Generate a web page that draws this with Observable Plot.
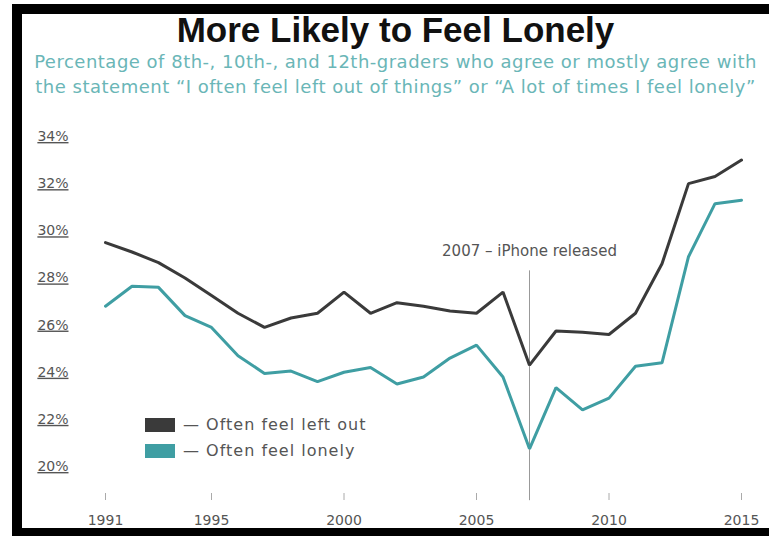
<!DOCTYPE html>
<html>
<head>
<meta charset="utf-8">
<script src="https://cdn.jsdelivr.net/npm/d3@7"></script>
<script src="https://cdn.jsdelivr.net/npm/@observablehq/plot@0.6"></script>
<style>
  html, body { margin: 0; padding: 0; background: #fff; }
  #wrap { position: relative; width: 769px; height: 536px; overflow: hidden; background: #fff; }
  .bar { position: absolute; background: #000; z-index: 5; }
  #title { position: absolute; left: 22px; right: 0; top: 12px; text-align: center;
    font-family: "Liberation Sans", Arial, sans-serif; font-weight: bold; font-size: 35px; line-height: 35px; color: #111; z-index: 3; }
  #subtitle { position: absolute; left: 22px; right: 0; top: 49px; text-align: center;
    font-family: "DejaVu Sans", sans-serif; font-size: 18px; letter-spacing: 0.5px; line-height: 25px; color: #6ab6b7; z-index: 3; }
  #chart { position: absolute; left: 0; top: 100px; z-index: 1; }
  #chart svg .tick-y text { text-decoration: underline; text-decoration-color: #999; }
  .legend { position: absolute; z-index: 3; font-family: "DejaVu Sans", sans-serif; font-size: 16px; letter-spacing: 1px; color: #555; }
  .sw { position: absolute; width: 30px; height: 14px; }
  .lt { position: absolute; line-height: 16px; white-space: nowrap; }
</style>
</head>
<body>
<div id="wrap">
  <div class="bar" style="left:12px;top:4px;width:10px;height:532px"></div>
  <div class="bar" style="left:12px;top:4px;width:757px;height:10px"></div>
  <div class="bar" style="left:12px;top:528px;width:757px;height:8px"></div>
  <div id="title"></div>
  <div id="subtitle"></div>
  <div id="chart"></div>
  <div class="legend" id="legend"></div>
</div>
<script>
const titleText = "More Likely to Feel Lonely";
const subtitleLines = [
  "Percentage of 8th-, 10th-, and 12th-graders who agree or mostly agree with",
  "the statement \u201cI often feel left out of things\u201d or \u201cA lot of times I feel lonely\u201d"
];
const years = [1991, 1992, 1993, 1994, 1995, 1996, 1997, 1998, 1999, 2000, 2001, 2002, 2003,
               2004, 2005, 2006, 2007, 2008, 2009, 2010, 2011, 2012, 2013, 2014, 2015];
const leftOut = [29.5, 29.1, 28.65, 28.0, 27.25, 26.5, 25.9, 26.3, 26.5, 27.4, 26.5, 26.95, 26.8,
                 26.6, 26.5, 27.4, 24.3, 25.75, 25.7, 25.6, 26.5, 28.6, 32.0, 32.3, 33.0];
const lonely = [26.8, 27.65, 27.6, 26.4, 25.9, 24.7, 23.95, 24.05, 23.6, 24.0, 24.2, 23.5, 23.8,
                24.6, 25.15, 23.8, 20.75, 23.35, 22.4, 22.9, 24.25, 24.4, 28.9, 31.15, 31.3];
const seriesNames = ["Often feel left out", "Often feel lonely"];
const seriesColors = ["#3a3a3a", "#3f9ea3"];
const yTicks = [20, 22, 24, 26, 28, 30, 32, 34];
const xTicks = [1991, 1995, 2000, 2005, 2010, 2015];
const annotation = [{year: 2007, label: "2007 \u2013 iPhone released", top: 28.3, bottom: 18.55, labelY: 29.15}];

document.getElementById("title").textContent = titleText;
document.getElementById("subtitle").innerHTML = subtitleLines.map(s => s.replace(/&/g,"&amp;")).join("<br>");

const rows = [];
years.forEach((yr, i) => {
  rows.push({year: yr, value: leftOut[i], series: seriesNames[0]});
  rows.push({year: yr, value: lonely[i], series: seriesNames[1]});
});

const chart = Plot.plot({
  width: 769,
  height: 429,
  marginLeft: 105,
  marginRight: 28,
  marginTop: 36,
  marginBottom: 36,
  style: {fontFamily: "DejaVu Sans, sans-serif", fontSize: "13px", color: "#555", background: "transparent"},
  x: {domain: [1991, 2015], label: null},
  y: {domain: [20, 34], insetBottom: 27, label: null},
  color: {domain: seriesNames, range: seriesColors},
  marks: [
    Plot.axisY({ticks: yTicks, tickFormat: d => d + "%", tickSize: 0, tickPadding: 37, label: null, className: "tick-y", fill: "#555", fontSize: 14, letterSpacing: "0.8px"}),
    Plot.axisX({ticks: xTicks, tickFormat: d => String(d), tickSize: 7, tickPadding: 15, label: null, stroke: "#aaa", fill: "#555", fontSize: 14, letterSpacing: "0.6px"}),
    Plot.ruleX(annotation, {x: "year", y1: "top", y2: "bottom", stroke: "#999", strokeWidth: 1}),
    Plot.text(annotation, {x: "year", y: "labelY", text: "label", fill: "#555", fontSize: 15, letterSpacing: "0.7px"}),
    Plot.line(rows, {x: "year", y: "value", z: "series", stroke: "series", strokeWidth: 3, strokeLinejoin: "miter"})
  ]
});
document.getElementById("chart").appendChild(chart);

const legend = document.getElementById("legend");
seriesNames.forEach((name, i) => {
  const top = 418 + i * 26;
  const sw = document.createElement("div");
  sw.className = "sw";
  sw.style.left = "145px"; sw.style.top = top + "px"; sw.style.background = seriesColors[i];
  legend.appendChild(sw);
  const t = document.createElement("div");
  t.className = "lt";
  t.style.left = "183px"; t.style.top = (top - 1) + "px";
  t.textContent = "\u2014 " + name;
  legend.appendChild(t);
});
</script>
</body>
</html>
